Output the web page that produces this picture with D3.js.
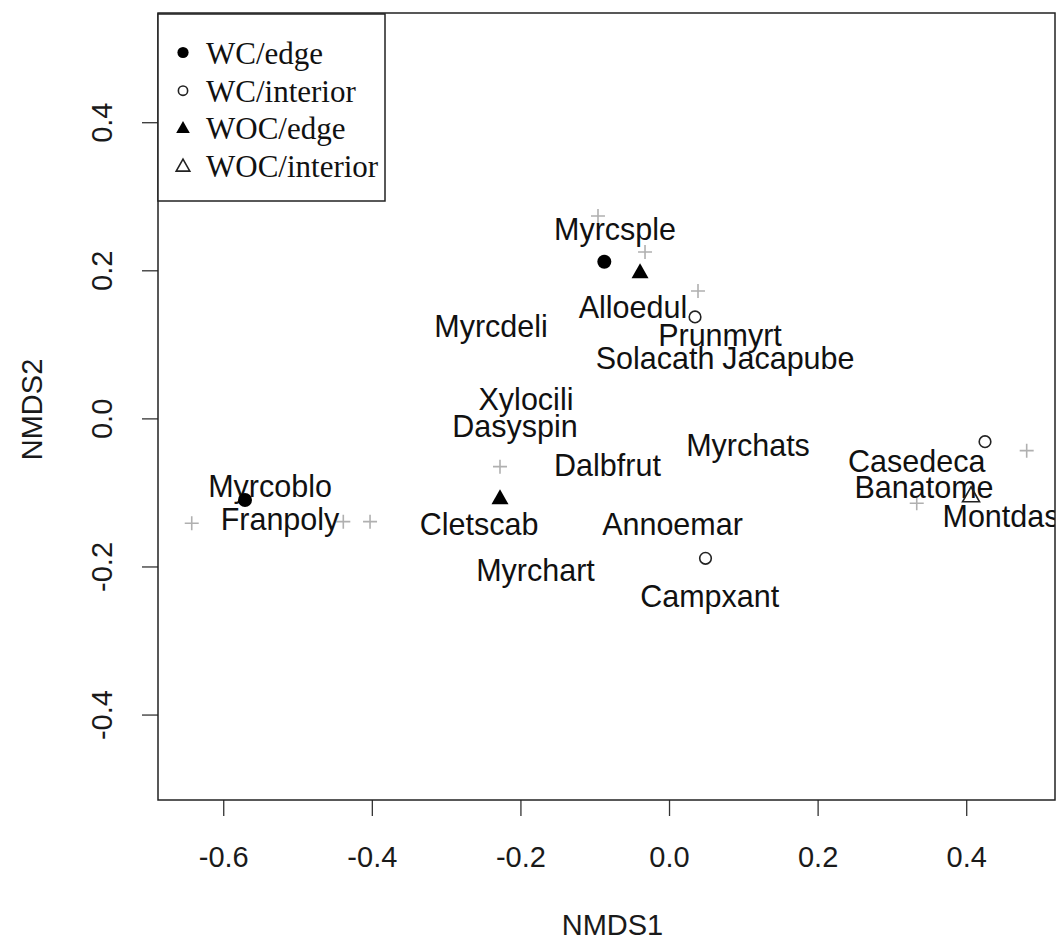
<!DOCTYPE html>
<html>
<head>
<meta charset="utf-8">
<script src="https://cdn.jsdelivr.net/npm/d3@7"></script>
<style>
  html, body { margin: 0; padding: 0; background: #fff; }
  svg { display: block; }
</style>
</head>
<body>
<div id="chart"></div>
<script>
// ---------- data ----------
const xTicks = [-0.6, -0.4, -0.2, 0.0, 0.2, 0.4];
const yTicks = [-0.4, -0.2, 0.0, 0.2, 0.4];
const xTickLabels = ["-0.6", "-0.4", "-0.2", "0.0", "0.2", "0.4"];
const yTickLabels = ["-0.4", "-0.2", "0.0", "0.2", "0.4"];

// labelled species (centre of label)
const speciesNames = ["Myrcsple","Myrcdeli","Alloedul","Prunmyrt","Solacath","Jacapube","Xylocili","Dasyspin","Myrchats","Dalbfrut","Cletscab","Annoemar","Myrchart","Campxant","Casedeca","Banatome","Montdas","Myrcoblo","Franpoly"];
const speciesX = [-0.0727,-0.2396,-0.0485,0.0686,-0.0188,0.1606,-0.1925,-0.2073,0.1063,-0.0828,-0.2557,0.0047,-0.1797,0.0548,0.3334,0.3432,0.4468,-0.537,-0.5236];
const speciesY = [0.2551,0.1248,0.1505,0.1126,0.0806,0.0806,0.0262,-0.0103,-0.0359,-0.0629,-0.1426,-0.1433,-0.2048,-0.2408,-0.0585,-0.0933,-0.1328,-0.0913,-0.1359];

// unlabelled species (grey +)
const plusX = [-0.0956,-0.0323,0.039,-0.2275,-0.6424,-0.4384,-0.4024,0.4814,0.3334];
const plusY = [0.2734,0.2247,0.1721,-0.0652,-0.1417,-0.1395,-0.1395,-0.0436,-0.1147];

// sites
const siteGroups = ["WC/edge","WC/interior","WOC/edge","WOC/interior"];
const siteGroup = ["WC/edge","WC/edge","WC/interior","WC/interior","WC/interior","WOC/edge","WOC/edge","WOC/interior"];
const siteX = [-0.0871,-0.5707,0.035,0.0491,0.4253,-0.039,-0.2275,0.4065];
const siteY = [0.2116,-0.1102,0.137,-0.189,-0.0315,0.1984,-0.1068,-0.1035];

// ---------- layout ----------
const W = 1059, H = 945;
const pLeft = 158, pRight = 1055, pTop = 13, pBottom = 800;
const FONT = "Liberation Sans, Arial, Helvetica, sans-serif";

const x = d3.scaleLinear().domain([-0.6878, 0.5195]).range([pLeft, pRight]);
const y = d3.scaleLinear().domain([-0.5154, 0.5475]).range([pBottom, pTop]);

const svg = d3.select("#chart").append("svg").attr("width", W).attr("height", H);

svg.append("defs").append("clipPath").attr("id", "plotclip")
  .append("rect").attr("x", pLeft).attr("y", pTop).attr("width", pRight - pLeft).attr("height", pBottom - pTop);

// axes
const xAxis = d3.axisBottom(x).tickValues(xTicks).tickSize(16).tickPadding(30)
  .tickFormat((d, i) => xTickLabels[i]);
const gx = svg.append("g").attr("transform", `translate(0,${pBottom})`).call(xAxis);
gx.select(".domain").remove();
gx.selectAll("line").attr("stroke", "#333").attr("stroke-width", 1.3);
gx.selectAll("text").attr("font-family", FONT).attr("font-size", 29).attr("fill", "#1a1a1a");

const yAxis = d3.axisLeft(y).tickValues(yTicks).tickSize(16).tickFormat((d, i) => yTickLabels[i]);
const gy = svg.append("g").attr("transform", `translate(${pLeft},0)`).call(yAxis);
gy.select(".domain").remove();
gy.selectAll("line").attr("stroke", "#333").attr("stroke-width", 1.3);
gy.selectAll("text").remove();
gy.selectAll(".tick").append("text")
  .attr("transform", "translate(-56,0) rotate(-90)")
  .attr("text-anchor", "middle").attr("dy", "0.35em")
  .attr("font-family", FONT).attr("font-size", 29).attr("fill", "#1a1a1a")
  .text((d, i) => yTickLabels[i]);

// axis titles
svg.append("text").attr("x", (pLeft + pRight) / 2 + 6).attr("y", 925).attr("dy", "0.35em")
  .attr("text-anchor", "middle").attr("font-family", FONT).attr("font-size", 29).attr("fill", "#1a1a1a")
  .text("NMDS1");
svg.append("text").attr("transform", `translate(32,${(pTop + pBottom) / 2 + 3}) rotate(-90)`).attr("dy", "0.35em")
  .attr("text-anchor", "middle").attr("font-family", FONT).attr("font-size", 29).attr("fill", "#1a1a1a")
  .text("NMDS2");

const plot = svg.append("g").attr("clip-path", "url(#plotclip)");

// grey plus signs
plusX.forEach((px, i) => {
  const cx = x(px), cy = y(plusY[i]);
  plot.append("path")
    .attr("d", `M${cx - 7},${cy}H${cx + 7}M${cx},${cy - 7}V${cy + 7}`)
    .attr("stroke", "#b0b0b0").attr("stroke-width", 1.6).attr("fill", "none");
});

// species labels
plot.selectAll("text.sp").data(speciesNames).join("text")
  .attr("class", "sp")
  .attr("x", (d, i) => x(speciesX[i]))
  .attr("y", (d, i) => y(speciesY[i]))
  .attr("dy", "0.35em")
  .attr("text-anchor", "middle")
  .attr("font-family", FONT).attr("font-size", 30.5).attr("fill", "#111")
  .text(d => d);

// site symbols
function drawSymbol(g, group, cx, cy, s) {
  if (group === "WC/edge") {
    g.append("circle").attr("cx", cx).attr("cy", cy).attr("r", 7 * s).attr("fill", "#000");
  } else if (group === "WC/interior") {
    g.append("circle").attr("cx", cx).attr("cy", cy).attr("r", 5.8 * s)
      .attr("fill", "none").attr("stroke", "#222").attr("stroke-width", 1.6);
  } else {
    const w = 8.5 * s, h = 15 * s;
    const p = `M${cx},${cy - h * 0.55}L${cx + w},${cy + h * 0.45}L${cx - w},${cy + h * 0.45}Z`;
    if (group === "WOC/edge") {
      g.append("path").attr("d", p).attr("fill", "#000");
    } else {
      g.append("path").attr("d", p).attr("fill", "none").attr("stroke", "#222").attr("stroke-width", 1.6);
    }
  }
}
siteX.forEach((sx, i) => drawSymbol(plot, siteGroup[i], x(sx), y(siteY[i]), 1));

// plot border
svg.append("rect").attr("x", pLeft).attr("y", pTop).attr("width", pRight - pLeft).attr("height", pBottom - pTop)
  .attr("fill", "none").attr("stroke", "#222").attr("stroke-width", 1.5);

// legend
const leg = svg.append("g");
leg.append("rect").attr("x", pLeft).attr("y", 14).attr("width", 227).attr("height", 187)
  .attr("fill", "#fff").attr("stroke", "#222").attr("stroke-width", 1.5);
const legBase = [63.5, 101.7, 138.5, 176.7];
siteGroups.forEach((g, i) => {
  drawSymbol(leg, g, 183, legBase[i] - 11, 0.8);
  leg.append("text").attr("x", 206).attr("y", legBase[i])
    .attr("font-family", "Liberation Serif, Times New Roman, serif").attr("font-size", 31).attr("fill", "#111")
    .text(g);
});
</script>
</body>
</html>
